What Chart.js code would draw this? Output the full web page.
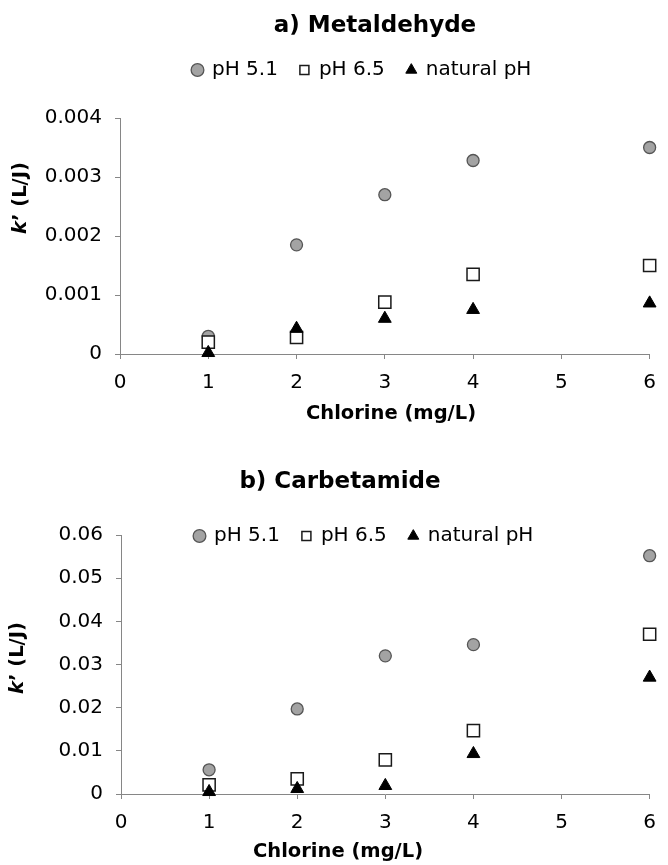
<!DOCTYPE html>
<html>
<head>
<meta charset="utf-8">
<script src="https://cdn.jsdelivr.net/npm/chart.js@4.4.1/dist/chart.umd.min.js"></script>
<style>
  html, body { margin: 0; padding: 0; background: #fff; }
  #wrap { position: relative; width: 668px; height: 865px; }
  .box { position: absolute; left: 0; width: 668px; }
  #boxA { top: 0; height: 440px; }
  #boxB { top: 440px; height: 425px; }
</style>
</head>
<body>
<div id="wrap">
  <div class="box" id="boxA"><canvas id="chartA"></canvas></div>
  <div class="box" id="boxB"><canvas id="chartB"></canvas></div>
</div>
<script>
const FONT = '"DejaVu Sans", Arial, sans-serif';

const chlorine = [1, 2, 3, 4, 6];
const xTicks = [0, 1, 2, 3, 4, 5, 6];
const seriesNames = ['pH 5.1', 'pH 6.5', 'natural pH'];

// a) Metaldehyde
const metaPH51 = [0.0003, 0.00185, 0.0027, 0.00328, 0.0035];
const metaPH65 = [0.0002, 0.00028, 0.00088, 0.00135, 0.0015];
const metaNatural = [0.00002, 0.00043, 0.0006, 0.00075, 0.00086];
const metaYTicks = [0, 0.001, 0.002, 0.003, 0.004];

// b) Carbetamide
const carbPH51 = [0.0056, 0.0197, 0.032, 0.0346, 0.0552];
const carbPH65 = [0.0021, 0.0035, 0.0079, 0.0147, 0.037];
const carbNatural = [0.0005, 0.0012, 0.0019, 0.0093, 0.027];
const carbYTicks = [0, 0.01, 0.02, 0.03, 0.04, 0.05, 0.06];

// marker looks, same for both panels
const markers = [
  { pointStyle: 'circle', radius: 6, bg: '#a3a3a3', border: '#555555', bw: 1.3, order: 3 },
  { pointStyle: 'rect', radius: 8.6, bg: '#ffffff', border: '#1a1a1a', bw: 1.5, order: 2 },
  { pointStyle: 'triangle', radius: 7.4, bg: '#000000', border: '#000000', bw: 1, order: 1 }
];

function makeDatasets(seriesList) {
  return seriesList.map((vals, i) => ({
    label: seriesNames[i],
    data: chlorine.map((x, j) => ({ x, y: vals[j] })),
    pointStyle: markers[i].pointStyle,
    pointRadius: markers[i].radius,
    pointHoverRadius: markers[i].radius,
    backgroundColor: markers[i].bg,
    borderColor: markers[i].border,
    pointBorderWidth: markers[i].bw,
    borderWidth: markers[i].bw,
    showLine: false,
    clip: false,
    order: markers[i].order
  }));
}

// after layout, put title and legend where the picture has them
const placeBoxes = {
  id: 'placeBoxes',
  afterLayout(chart, args, opts) {
    const t = chart.titleBlock, l = chart.legend;
    if (t && opts.title) {
      const lh = t.options.font.size * 1.2;
      const dx = opts.title.x - (t.left + t.right) / 2;
      const dy = opts.title.y - (t.top + lh / 2);
      t.left += dx; t.right += dx; t.top += dy; t.bottom += dy;
    }
    if (l && opts.legend) {
      const lab = l.options.labels;
      const dx = opts.legend.x - (l.left + lab.padding);
      const dy = opts.legend.y - (l.top + lab.padding + lab.font.size / 2);
      l.left += dx; l.right += dx; l.top += dy; l.bottom += dy;
    }
  }
};

// axis titles (y one has an italic k)
const axisTitles = {
  id: 'axisTitles',
  afterDraw(chart, args, opts) {
    const ctx = chart.ctx;
    const bold = 'bold 19.5px ' + FONT;
    const boldIt = 'italic bold 19.5px ' + FONT;
    ctx.save();
    ctx.fillStyle = '#000';
    ctx.textBaseline = 'middle';
    ctx.textAlign = 'center';
    ctx.font = bold;
    ctx.fillText('Chlorine (mg/L)', opts.xTitle.x, opts.xTitle.y);

    ctx.translate(opts.yTitle.x, opts.yTitle.y);
    ctx.rotate(-Math.PI / 2);
    ctx.textAlign = 'left';
    ctx.font = boldIt;
    const w1 = ctx.measureText('k').width;
    ctx.font = bold;
    const w2 = ctx.measureText('\u2019 (L/J)').width;
    const x0 = -(w1 + w2) / 2;
    ctx.font = boldIt;
    ctx.fillText('k', x0, 0);
    ctx.font = bold;
    ctx.fillText('\u2019 (L/J)', x0 + w1, 0);
    ctx.restore();
  }
};

function makeChart(id, cfg) {
  return new Chart(document.getElementById(id), {
    type: 'scatter',
    data: { datasets: makeDatasets(cfg.series) },
    options: {
      responsive: true,
      maintainAspectRatio: false,
      animation: false,
      layout: { padding: { left: 0, right: cfg.padRight, top: 0, bottom: 0 } },
      plugins: {
        title: {
          display: true,
          text: cfg.title,
          color: '#000',
          font: { family: FONT, size: 23, weight: 'bold' },
          padding: { top: 0, bottom: cfg.titleGap }
        },
        legend: {
          display: true,
          position: 'top',
          align: 'start',
          labels: {
            usePointStyle: true,
            boxWidth: 9,
            boxHeight: 9,
            padding: 22,
            color: '#000',
            font: { family: FONT, size: 20 },
            sort: (a, b) => a.datasetIndex - b.datasetIndex
          }
        },
        tooltip: { enabled: false },
        placeBoxes: { title: cfg.titlePos, legend: cfg.legendPos },
        axisTitles: { xTitle: cfg.xTitlePos, yTitle: cfg.yTitlePos }
      },
      scales: {
        x: {
          type: 'linear',
          min: xTicks[0],
          max: xTicks[xTicks.length - 1],
          afterBuildTicks: s => { s.ticks = xTicks.map(v => ({ value: v })); },
          afterFit: s => { s.height = cfg.xHeight; },
          grid: { drawOnChartArea: false, tickLength: 5, color: '#868686' },
          border: { color: '#868686', width: 1 },
          ticks: { color: '#000', padding: 12, font: { family: FONT, size: 20 }, callback: v => String(v) }
        },
        y: {
          type: 'linear',
          min: cfg.yTicks[0],
          max: cfg.yTicks[cfg.yTicks.length - 1],
          afterBuildTicks: s => { s.ticks = cfg.yTicks.map(v => ({ value: v })); },
          afterFit: s => { s.width = cfg.yWidth; },
          grid: { drawOnChartArea: false, tickLength: 5, color: '#868686' },
          border: { color: '#868686', width: 1 },
          ticks: { color: '#000', padding: 13, font: { family: FONT, size: 20 }, callback: v => String(v) }
        }
      }
    },
    plugins: [placeBoxes, axisTitles]
  });
}

makeChart('chartA', {
  title: 'a) Metaldehyde',
  series: [metaPH51, metaPH65, metaNatural],
  yTicks: metaYTicks,
  padRight: 8,
  yWidth: 120,
  xHeight: 86,
  titleGap: 38.4,
  titlePos: { x: 375, y: 26 },
  legendPos: { x: 193, y: 70 },
  xTitlePos: { x: 391, y: 414 },
  yTitlePos: { x: 21, y: 198 }
});

makeChart('chartB', {
  title: 'b) Carbetamide',
  series: [carbPH51, carbPH65, carbNatural],
  yTicks: carbYTicks,
  padRight: 18,
  yWidth: 121,
  xHeight: 71,
  titleGap: 15.4,
  titlePos: { x: 340, y: 42 },
  legendPos: { x: 195, y: 96 },
  xTitlePos: { x: 338, y: 412 },
  yTitlePos: { x: 18, y: 218 }
});
</script>
</body>
</html>
